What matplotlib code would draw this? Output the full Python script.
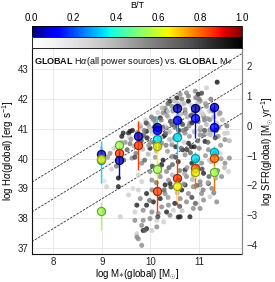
import numpy as np
import matplotlib
matplotlib.use("Agg")
import matplotlib.pyplot as plt
from matplotlib import colors
from matplotlib.colorbar import ColorbarBase

plt.rcParams['font.family'] = ['Liberation Sans', 'DejaVu Sans']
plt.rcParams['mathtext.fontset'] = 'custom'
plt.rcParams['mathtext.rm'] = 'Liberation Sans'
plt.rcParams['mathtext.bf'] = 'Liberation Sans:bold'
plt.rcParams['mathtext.it'] = 'Liberation Sans:italic'

# ---------------- data ----------------
gray_logm = [
    9.34, 9.10, 9.75, 9.55, 9.79, 9.92, 10.03, 10.30, 10.40, 10.20, 10.30, 10.64, 10.71, 10.78,
    10.88, 11.02, 11.19, 11.26, 11.05, 11.09, 11.22, 11.36, 10.95, 10.74, 10.61, 10.50, 10.37,
    10.23, 10.06, 9.92, 9.72, 9.85, 10.03, 9.68, 10.16, 10.33, 10.61, 10.81, 9.99, 10.13, 10.27,
    9.85, 9.82, 9.92, 9.85, 10.03, 10.13, 9.72, 9.75, 9.38, 10.88, 11.02, 10.47, 9.82, 9.72,
    9.89, 9.68, 10.57,
    9.17, 9.62, 9.82, 9.75, 9.99, 10.23, 10.33, 10.44, 10.57, 10.71, 10.71, 10.85, 10.74, 11.05,
    11.09, 11.02, 10.57, 10.37, 10.03, 9.82, 11.19, 11.43, 11.53, 11.60, 11.62, 11.46, 9.41, 9.55,
    9.85, 9.99, 10.23, 10.30, 10.44, 10.71, 10.78, 11.02, 11.39, 11.53, 11.58, 11.12,
    11.37, 11.15, 10.92, 10.98, 10.74, 10.61, 10.54, 10.40, 10.78, 11.02, 11.15, 11.22, 11.43,
    10.64, 10.44, 10.30, 10.26, 10.20, 10.06, 9.92, 9.79, 9.58, 9.44, 10.37, 10.54, 10.71, 11.09,
    11.22, 11.36, 10.81, 10.54, 10.33, 9.92, 11.02, 11.22,
    9.48, 9.52, 9.57, 9.63, 9.66, 9.70, 9.73, 9.78, 9.81, 9.84, 9.87, 9.90, 9.93, 9.96, 9.98,
    10.02, 10.05, 10.07, 10.10, 10.12, 10.15, 10.17, 10.19, 10.22, 10.24, 10.27, 10.29, 10.32,
    10.34, 10.36, 10.39, 10.41, 10.43, 10.46, 10.48, 10.50, 10.52, 10.55, 10.57, 10.59, 10.62,
    10.64, 10.66, 10.69, 10.71, 10.73, 10.76, 10.78, 10.80, 10.83, 10.85, 10.88, 10.90, 10.93,
    10.95, 10.97, 11.00, 11.03, 11.05, 11.08, 11.10, 11.13, 11.15, 11.18, 11.21, 11.24, 11.27,
    11.30, 11.33, 11.36, 11.40, 11.44, 11.48, 11.52, 11.57, 11.62,
    9.88, 9.95, 10.04, 10.10, 10.18, 10.26, 10.35, 10.38, 10.45, 10.52, 10.60, 10.66, 10.75,
    10.82, 10.88, 10.94, 11.00, 11.06, 11.13, 11.20, 11.25, 11.32, 11.38, 11.45, 11.52, 10.12,
    10.42, 10.68, 10.95, 11.18, 11.30, 10.85, 10.55, 10.28,
    9.12, 9.25, 9.30, 9.40, 9.45, 9.34, 9.20, 9.05, 9.03, 9.64,
    9.60, 9.68, 9.77, 9.86, 9.95, 10.08, 10.21, 10.33, 10.47, 10.58, 10.69, 10.83, 10.97,
    11.11, 11.26, 11.41, 10.14, 10.39, 10.63, 10.90, 11.16, 10.00, 10.25, 10.50, 10.75, 11.00,
    9.58, 9.74, 9.91, 10.01, 10.09, 10.16, 10.23, 10.31, 10.37, 10.44, 10.49, 10.56, 10.61,
    10.67, 10.72, 10.79, 10.84, 10.91, 10.98, 11.04, 11.11, 11.17, 11.23, 11.29, 11.35, 10.20,
    10.45, 10.70, 10.96, 11.21, 9.98, 10.36, 10.60, 10.86, 11.08, 11.34, 10.15, 10.40, 10.65,
    10.92,
]
gray_logha = [
    39.06, 39.06, 38.95, 38.78, 38.66, 38.83, 38.95, 39.12, 39.17, 38.66, 38.83, 38.95, 39.12,
    38.83, 39.06, 39.12, 39.17, 39.00, 38.83, 38.61, 38.72, 38.55, 38.50, 38.55, 38.66, 38.50,
    38.44, 38.38, 38.55, 38.44, 38.44, 38.27, 38.21, 38.21, 38.16, 38.21, 38.05, 38.05, 37.99,
    37.93, 37.88, 37.93, 37.76, 37.65, 37.59, 37.59, 37.71, 37.48, 37.31, 38.05, 38.33, 38.33,
    38.27, 37.09, 37.37, 37.60, 37.93, 38.04,
    40.18, 40.02, 39.85, 39.45, 39.57, 39.79, 39.57, 40.07, 39.90, 40.13, 39.62, 39.85, 39.40,
    39.85, 39.51, 39.23, 39.28, 39.28, 39.28, 39.23, 40.30, 40.18, 39.85, 39.57, 40.02, 39.40,
    40.75, 40.86, 40.75, 40.35, 40.52, 40.80, 40.47, 40.86, 40.52, 40.80, 40.75, 40.64, 40.86,
    40.58,
    42.57, 42.38, 42.27, 42.16, 42.21, 42.16, 42.04, 41.93, 41.93, 41.93, 41.76, 41.59, 41.54,
    41.82, 41.76, 41.70, 41.54, 41.37, 41.31, 41.20, 41.09, 40.92, 40.86, 41.37, 41.42, 41.54,
    41.42, 41.31, 41.20, 41.20, 41.09, 41.03, 40.92, 40.97, 40.97,
    40.55, 40.30, 40.72, 40.95, 40.42, 40.18, 40.88, 41.15, 40.60, 40.32, 40.95, 41.30, 40.70,
    40.45, 41.05, 41.40, 40.85, 40.55, 41.20, 40.25, 41.55, 40.95, 40.60, 41.30, 41.70, 40.75,
    41.10, 40.45, 41.45, 41.85, 40.90, 41.25, 40.60, 41.60, 41.95, 41.05, 40.40, 41.35, 41.75,
    40.80, 41.50, 42.00, 41.15, 40.55, 41.65, 41.00, 41.40, 42.10, 40.75, 41.80, 41.20, 41.55,
    40.90, 42.05, 41.35, 40.60, 41.70, 41.05, 42.20, 41.50, 40.80, 41.85, 41.15, 40.55, 41.60,
    42.00, 40.95, 41.40, 40.70, 41.75, 41.05, 40.45, 41.30, 40.85, 41.10, 40.60,
    39.95, 40.15, 39.75, 40.05, 39.55, 39.95, 40.25, 39.70, 39.45, 40.05, 39.60, 40.30, 39.70,
    40.20, 39.45, 39.95, 40.35, 39.65, 40.10, 39.40, 39.90, 40.20, 39.60, 40.00, 39.70, 39.20,
    39.05, 39.15, 39.10, 39.20, 38.85, 38.70, 38.85, 38.95,
    40.05, 40.35, 39.75, 40.55, 39.95, 39.35, 39.65, 39.25, 38.24, 39.00,
    40.65, 40.05, 40.50, 40.80, 41.15, 41.05, 40.70, 41.60, 41.25, 40.95, 41.85, 41.45, 41.90,
    41.30, 41.65, 41.50, 40.40, 40.65, 40.35, 40.40, 40.85, 40.55, 41.05, 41.70, 40.30, 42.00,
    40.50, 40.75, 41.20, 40.95, 41.35, 40.40, 41.00, 40.85, 41.60, 41.15, 40.70, 41.85, 41.25,
    40.95, 41.50, 41.10, 40.40, 41.75, 41.25, 41.55, 40.95, 41.35, 40.80, 41.60, 40.95, 39.40,
    39.80, 39.50, 39.75, 39.95, 38.60, 38.70, 38.40, 39.30, 38.95, 39.35, 38.05, 38.10, 38.25,
    38.50,
]
gray_bt = [
    0.90, 0.30, 0.30, 0.30, 0.55, 0.90, 0.55, 0.90, 0.90, 0.90, 0.55, 0.90, 0.90, 0.55, 0.55,
    0.55, 0.90, 0.55, 0.55, 0.55, 0.30, 0.55, 0.30, 0.55, 0.55, 0.90, 0.55, 0.55, 0.90, 0.90,
    0.90, 0.55, 0.55, 0.30, 0.55, 0.90, 0.90, 0.90, 0.55, 0.30, 0.30, 0.55, 0.55, 0.90, 0.90,
    0.30, 0.55, 0.30, 0.55, 0.30, 0.55, 0.55, 0.30, 0.55, 0.55, 0.70, 0.55, 0.90,
    0.55, 0.55, 0.55, 0.30, 0.55, 0.90, 0.55, 0.55, 0.90, 0.55, 0.90, 0.90, 0.55, 0.55, 0.90,
    0.55, 0.90, 0.55, 0.55, 0.30, 0.55, 0.30, 0.55, 0.30, 0.55, 0.55, 0.90, 0.90, 0.55, 0.90,
    0.55, 0.90, 0.55, 0.55, 0.90, 0.55, 0.55, 0.55, 0.30, 0.90,
    0.95, 0.30, 0.55, 0.90, 0.55, 0.55, 0.90, 0.90, 1.00, 0.55, 0.55, 0.30, 0.55, 0.30, 0.55,
    0.55, 0.55, 0.90, 0.55, 0.55, 0.55, 0.90, 0.90, 0.30, 0.30, 0.90, 0.55, 0.55, 0.30, 0.55,
    0.90, 0.55, 0.90, 0.55, 0.55,
    0.50, 0.70, 0.30, 0.90, 0.40, 0.60, 0.50, 0.30, 0.80, 0.40, 0.60, 0.30, 0.90, 0.50, 0.40,
    0.60, 0.30, 0.70, 0.50, 0.40, 0.30, 0.80, 0.50, 0.60, 0.40, 0.90, 0.30, 0.60, 0.50, 0.70,
    0.40, 0.80, 0.30, 0.50, 0.40, 0.60, 0.90, 0.30, 0.70, 0.50, 0.40, 0.60, 0.80, 0.30, 0.50,
    0.70, 0.40, 0.60, 0.50, 0.30, 0.90, 0.50, 0.40, 0.60, 0.30, 0.70, 0.50, 0.40, 0.80, 0.30,
    0.60, 0.50, 0.40, 0.70, 0.30, 0.60, 0.50, 0.40, 0.80, 0.30, 0.60, 0.50, 0.40, 0.30, 0.60,
    0.40,
    0.70, 0.40, 0.80, 0.50, 0.30, 0.90, 0.50, 0.70, 0.40, 0.80, 0.60, 0.90, 0.50, 0.70, 0.40,
    0.90, 0.60, 0.80, 0.50, 0.70, 0.40, 0.90, 0.60, 0.50, 0.40, 0.60, 0.80, 0.50, 0.70, 0.40,
    0.60, 0.80, 0.40, 0.70,
    0.50, 0.30, 0.60, 0.40, 0.70, 0.95, 0.30, 0.20, 0.60, 0.25,
    0.50, 0.80, 0.35, 0.65, 0.45, 0.85, 0.30, 0.70, 0.55, 0.90, 0.40, 0.75, 0.35, 0.60, 0.50,
    0.45, 0.80, 0.40, 0.65, 0.90, 0.35, 0.55, 0.70, 0.45, 0.85, 0.60,
    0.60, 0.40, 0.75, 0.35, 0.55, 0.85, 0.45, 0.65, 0.30, 0.70, 0.50, 0.40, 0.80, 0.60, 0.35,
    0.55, 0.90, 0.45, 0.65, 0.30, 0.75, 0.50, 0.40, 0.60, 0.85, 0.55, 0.70, 0.45, 0.60, 0.35,
    0.65, 0.50, 0.75, 0.40, 0.60, 0.45, 0.80, 0.55, 0.35, 0.70,
]

comp_logm = [8.98, 8.98, 8.98, 8.98, 9.345, 9.345, 9.345, 9.745, 9.745,
             10.135, 10.135, 10.135, 10.135, 10.135, 10.135,
             10.535, 10.535, 10.535, 10.535, 10.535,
             10.915, 10.915, 10.915, 10.915, 10.915,
             11.305, 11.305, 11.305, 11.305, 11.305]
comp_logha = [40.16, 39.95, 40.00, 38.24, 40.47, 40.20, 39.96, 40.75, 40.47,
              41.08, 40.95, 40.67, 40.43, 39.65, 38.90,
              41.70, 41.30, 40.74, 39.35, 39.10,
              41.70, 41.38, 40.03, 39.69, 39.55,
              41.75, 41.07, 40.23, 40.03, 39.55]
comp_bt = [0.05, 0.35, 0.65, 0.55, 0.55, 0.85, 0.05, 0.05, 0.85,
           0.05, 0.12, 0.35, 0.65, 0.55, 0.85,
           0.05, 0.12, 0.35, 0.85, 0.65,
           0.05, 0.12, 0.35, 0.80, 0.65,
           0.08, 0.12, 0.35, 0.80, 0.55]
comp_err_lo = [0.25, 0.75, 0.10, 0.65, 0.15, 0.20, 0.60, 0.20, 0.85,
               0.10, 0.15, 0.40, 1.20, 0.20, 0.70,
               0.15, 0.30, 0.60, 0.90, 0.55,
               0.10, 0.70, 0.20, 0.70, 0.20,
               0.10, 0.30, 0.20, 1.10, 0.20]
comp_err_hi = [0.25, 0.65, 0.10, 0.30, 0.15, 0.20, 0.30, 0.20, 0.80,
               0.10, 0.15, 0.75, 0.20, 0.20, 0.40,
               0.15, 0.30, 0.80, 0.65, 0.20,
               0.10, 0.30, 0.20, 0.30, 0.20,
               0.10, 0.60, 0.20, 0.20, 0.20]

ssfr_offsets = [31.65, 30.65, 29.65]   # log Ha = log M + offset
sfr_conv = 41.1                         # log SFR = log Ha - sfr_conv

xlim = (7.56, 11.88)
ylim = (36.8, 43.7)

# ---------------- figure ----------------
W, H = 275, 282
fig = plt.figure(figsize=(W / 100, H / 100), dpi=100)

ax_l, ax_r = 31.7 / W, 242 / W
ax = fig.add_axes([ax_l, 1 - 254 / H, ax_r - ax_l, (254 - 48.5) / H])
ax.set_xlim(*xlim)
ax.set_ylim(*ylim)

ax.grid(True, color='#e6e6e6', lw=0.6, zorder=0)
ax.set_axisbelow(True)

xx = np.array(xlim)
for off in ssfr_offsets:
    ax.plot(xx, xx + off, ls=(0, (3, 1.5)), color='#333333', lw=0.6, zorder=1)

ax.scatter(gray_logm, gray_logha, c=gray_bt, cmap='Greys', vmin=0, vmax=1,
           s=13, alpha=0.8, linewidths=0, zorder=2)

jet = plt.get_cmap('jet')
for m, h, bt, lo, hi in zip(comp_logm, comp_logha, comp_bt, comp_err_lo, comp_err_hi):
    col = jet(bt)
    ax.errorbar([m], [h], yerr=[[lo], [hi]], fmt='none', ecolor=col, elinewidth=1.0,
                capsize=0, zorder=3)
for m, h, bt in zip(comp_logm, comp_logha, comp_bt):
    col = np.array(jet(bt))
    edge = col.copy()
    edge[:3] *= 0.65
    face = col.copy()
    face[3] = 0.75
    ax.scatter([m], [h], s=34, facecolor=face, edgecolor=edge, linewidths=0.9, zorder=4)

ax.set_xticks([8, 9, 10, 11])
ax.set_yticks([37, 38, 39, 40, 41, 42, 43])
ax.tick_params(axis='both', length=0, labelsize=7, pad=2.5, colors='#222222')
ax.set_xlabel(r'log M$\ast$(global) [M$_{\odot}$]', fontsize=7, labelpad=0.5)
ax.set_ylabel(r'log H$\alpha$(global) [erg s$^{-1}$]', fontsize=7, labelpad=1)

for side in ['left', 'bottom']:
    ax.spines[side].set_color('#111111')
    ax.spines[side].set_linewidth(0.8)
ax.spines['top'].set_visible(False)
ax.spines['right'].set_color('#888888')
ax.spines['right'].set_linewidth(0.8)

ax.text(0.012, 0.935,
        r'$\mathbf{GLOBAL}$ H$\alpha$(all power sources) vs. $\mathbf{GLOBAL}$ M$\ast$',
        transform=ax.transAxes, fontsize=6.5, ha='left', va='center', color='#111111',
        zorder=6)

ax2 = ax.twinx()
ax2.set_ylim(ylim[0] - sfr_conv, ylim[1] - sfr_conv)
ax2.set_yticks([-4, -3, -2, -1, 0, 1, 2])
ax2.tick_params(axis='y', length=0, labelsize=7, pad=3, colors='#222222')
ax2.set_ylabel(r'log SFR(global) [M$_{\odot}$ yr$^{-1}$]', fontsize=7, labelpad=2)
for s in ['left', 'top', 'bottom']:
    ax2.spines[s].set_visible(False)
ax2.spines['right'].set_color('#888888')
ax2.spines['right'].set_linewidth(0.8)

cb_h = 11 / H
cax1 = fig.add_axes([ax_l, 1 - 37 / H, ax_r - ax_l, cb_h])
cax2 = fig.add_axes([ax_l, 1 - 48 / H, ax_r - ax_l, cb_h])
norm = colors.Normalize(0, 1)
cb1 = ColorbarBase(cax1, cmap=jet, norm=norm, orientation='horizontal')
cb1.set_ticks([0, 0.2, 0.4, 0.6, 0.8, 1.0])
cb1.set_ticklabels(['0.0', '0.2', '0.4', '0.6', '0.8', '1.0'])
cax1.xaxis.set_ticks_position('top')
cax1.xaxis.set_label_position('top')
cax1.tick_params(length=0, labelsize=7, pad=2)
cb1.set_label('B/T', fontsize=6.5, labelpad=4)
cb1.outline.set_linewidth(0.6)
cb2 = ColorbarBase(cax2, cmap=plt.get_cmap('Greys'), norm=norm, orientation='horizontal')
cb2.set_ticks([])
cb2.outline.set_linewidth(0.6)

fig.savefig('out.png', dpi=100)
